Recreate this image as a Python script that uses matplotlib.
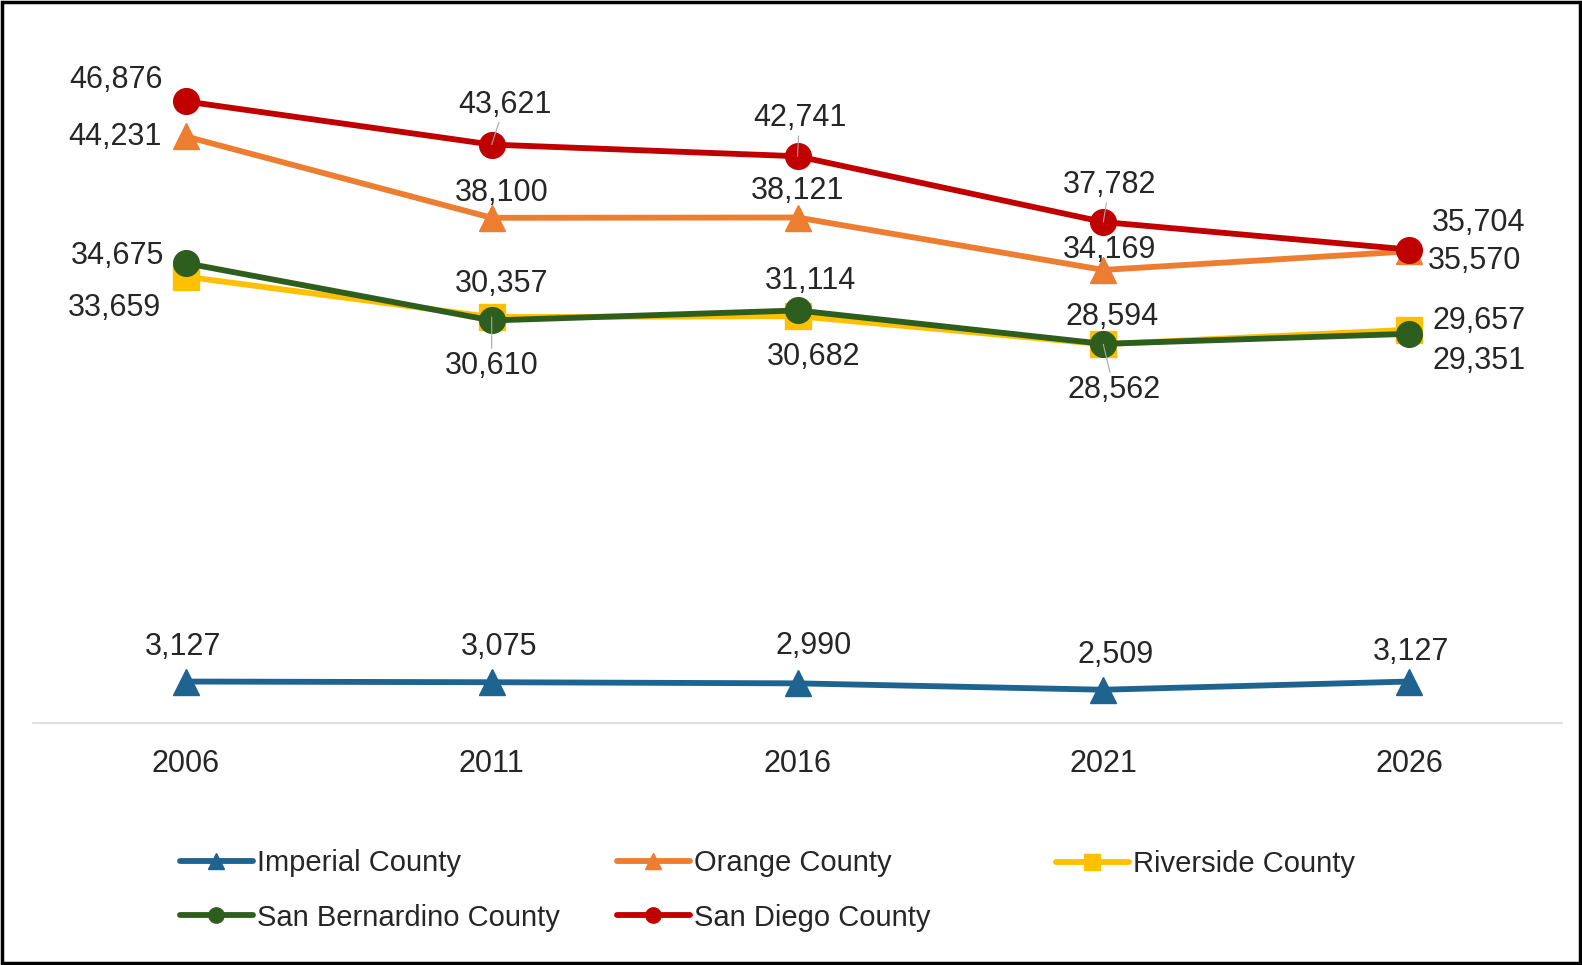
import matplotlib
matplotlib.use("Agg")
import matplotlib.pyplot as plt
from matplotlib.lines import Line2D
from matplotlib.patches import Rectangle

# ---------------- data ----------------
years = ["2006", "2011", "2016", "2021", "2026"]

imperial = [3127, 3075, 2990, 2509, 3127]
orange = [44231, 38100, 38121, 34169, 35570]
riverside = [33659, 30610, 30682, 28562, 29657]
san_bernardino = [34675, 30357, 31114, 28594, 29351]
san_diego = [46876, 43621, 42741, 37782, 35704]

series_names = ["Imperial County", "Orange County", "Riverside County",
                "San Bernardino County", "San Diego County"]

# ---------------- style ----------------
colors = ["#1F6391", "#ED7D31", "#FFC000", "#2E5E1E", "#C00000"]
markers = ["^", "^", "s", "o", "o"]

# label offsets (pixels, x right / y up) for each point of each series
label_offsets = [
    [(-3, 38), (7, 38), (16, 40), (12, 38), (2, 33)],
    [(-71, 2), (10, 28), (0, 30), (6, 23), (65, -7)],
    [(-71, -28), (0, -46), (16, -38), (11, -43), (70, 12)],
    [(-68, 10), (10, 39), (13, 32), (9, 30), (70, -24)],
    [(-70, 24), (13, 43), (2, 41), (6, 40), (69, 30)],
]
# which labels get a thin leader line
leaders = [
    [False] * 5,
    [False, False, False, True, False],
    [False, True, False, True, False],
    [False, False, False, False, False],
    [False, True, True, True, False],
]

plt.rcParams["font.family"] = ["Liberation Sans", "DejaVu Sans"]

W, H = 1582, 965
fig = plt.figure(figsize=(W / 100, H / 100), dpi=100)
ax = fig.add_axes([33 / W, 1 - 723 / H, (1562 - 33) / W, (723 - 60) / H])

x = list(range(len(years)))
all_series = [imperial, orange, riverside, san_bernardino, san_diego]

for i, vals in enumerate(all_series):
    ax.plot(x, vals, color=colors[i], lw=4.2, marker=markers[i],
            markersize=18.5, markerfacecolor=colors[i],
            markeredgecolor=colors[i], solid_capstyle="round",
            zorder=2 + i)
    for j, v in enumerate(vals):
        dx, dy = label_offsets[i][j]
        kw = {}
        if leaders[i][j]:
            kw["arrowprops"] = dict(arrowstyle="-", color="#A6A6A6", lw=0.8,
                                    shrinkA=0, shrinkB=0)
        # va=center includes the descent, so nudge down a little
        ax.annotate(f"{v:,}", (j, v), xytext=(dx, dy - 3),
                    textcoords="offset pixels", ha="center", va="center",
                    fontsize=22, color="#262626", zorder=10, **kw)

ax.set_xlim(-0.5, 4.5)
ax.set_ylim(0, 50000)
ax.set_xticks(x)
ax.set_xticklabels(years, fontsize=22, color="#262626")
ax.set_yticks([])
ax.tick_params(axis="x", length=0, pad=19)
for s in ["top", "left", "right"]:
    ax.spines[s].set_visible(False)
ax.spines["bottom"].set_color("#D9D9D9")
ax.spines["bottom"].set_linewidth(1.2)

# ---------------- legend: three equal-width columns ----------------
def handle(i):
    return Line2D([], [], color=colors[i], lw=4.2, marker=markers[i],
                  markersize=11, solid_capstyle="round")

columns = [[0, 3], [1, 4], [2]]
col_x = [180, 617, 1056]
col_y = [890.5, 890.5, 864]
for c, idx in enumerate(columns):
    leg = fig.legend([handle(i) for i in idx], [series_names[i] for i in idx],
                     loc="center left",
                     bbox_to_anchor=(col_x[c] / W, 1 - col_y[c] / H),
                     frameon=False, fontsize=21, handlelength=2.5,
                     handletextpad=0.15, borderpad=0, borderaxespad=0,
                     labelspacing=0.9)
    for t in leg.get_texts():
        t.set_color("#262626")

# outer frame
fig.add_artist(Rectangle((2 / W, 2 / H), 1 - 4 / W, 1 - 4 / H,
                         transform=fig.transFigure, fill=False,
                         edgecolor="black", lw=2.5))

fig.savefig("out.png", dpi=100)
